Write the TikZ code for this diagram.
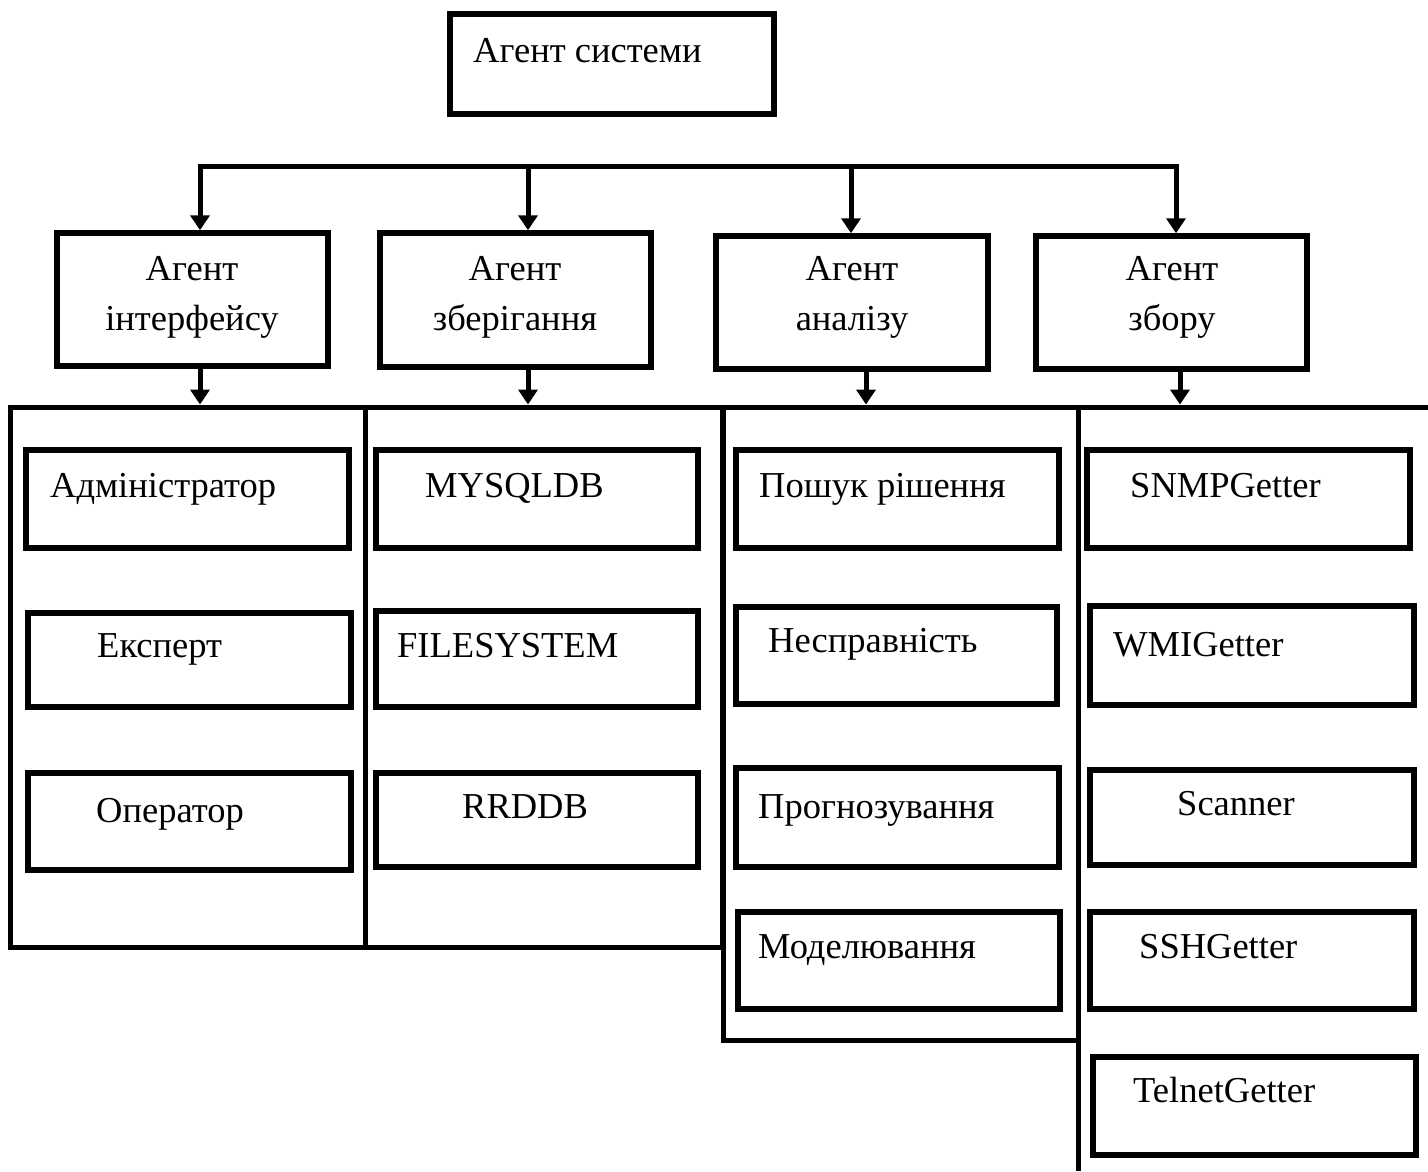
\documentclass[tikz,border=0pt]{standalone}
\usepackage{fontspec}
\setmainfont{Liberation Serif}
\usetikzlibrary{arrows.meta}

% rectangle given by the centre lines of its border: name, x1, y1, x2, y2
\newcommand\panel[6][boxline]{%
  \node[#1, minimum width={(#5-#3)*1pt}, minimum height={(#6-#4)*1pt}]
    (#2) at ({(#3+#5)/2},{(#4+#6)/2}) {};}

\tikzset{
  boxline/.style={draw, line width=5.5pt, inner sep=0pt, outer sep=0.5\pgflinewidth},
  frameline/.style={draw, line width=5pt, inner sep=0pt, outer sep=0.5\pgflinewidth},
  wire/.style={line width=5pt},
  arrow/.style={wire, -{Triangle[width=19pt,length=15pt]}},
  txt/.style={inner sep=0pt, font=\fontsize{36.5}{50}\selectfont},
  lbl/.style={txt, anchor=base west},
  % two-line caption; its base anchor is the baseline of the last line
  cap2/.style={txt, align=center, anchor=base},
}

\begin{document}
\begin{tikzpicture}[x=1pt, y=-1pt]
\useasboundingbox (0,0) rectangle (1428,1171);

% top agent
\panel{sys}{450}{14}{774}{114}
\node[lbl] (sysT) at (473,62) {Агент системи};

% distribution bar
\coordinate (j1) at (200,166);
\coordinate (j2) at (528,166);
\coordinate (j3) at (851,166);
\coordinate (j4) at (1176,166);
\draw[wire, line cap=rect] (j1) -- (j4);

% second level agents
\panel{a1}{57}{233}{328}{366}
\panel{a2}{380}{233}{651}{367}
\panel{a3}{716}{236}{988}{369}
\panel{a4}{1036}{236}{1307}{369}
\node[cap2] (a1T) at (192,330) {Агент\\інтерфейсу};
\node[cap2] (a2T) at (515,330) {Агент\\зберігання};
\node[cap2] (a3T) at (852,330) {Агент\\аналізу};
\node[cap2] (a4T) at (1172,330) {Агент\\збору};

\draw[arrow] (j1) -- (j1 |- a1.north);
\draw[arrow] (j2) -- (j2 |- a2.north);
\draw[arrow] (j3) -- (j3 |- a3.north);
\draw[arrow] (j4) -- (j4 |- a4.north);

% group frames
\panel[frameline]{c1}{10.5}{407}{365.5}{947}
\panel[frameline]{c2}{365.5}{407}{722.5}{947}
\panel[frameline]{c3}{723.5}{407}{1078}{1040}
\coordinate (c4ne) at (1428,407);
\coordinate (c4nw) at (1078,407);
\coordinate (c4sw) at (1078,1171);
\coordinate (c4in) at (1180,404.5);
\draw[wire] (c4ne) -- (c4nw) -- (c4sw);

\draw[arrow] ([xshift=7.5pt]a1.south) -- ([xshift=7.5pt]a1.south |- c1.north);
\draw[arrow] ([xshift=12.5pt]a2.south) -- ([xshift=12.5pt]a2.south |- c2.north);
\draw[arrow] ([xshift=14pt]a3.south) -- ([xshift=14pt]a3.south |- c3.north);
\draw[arrow] (a4.south -| c4in) -- (c4in);

% interface agent roles
\panel{i1}{26}{450}{349}{548}
\panel{i2}{28}{613}{351}{707}
\panel{i3}{28}{773}{351}{870}
\node[lbl] (i1T) at (50,497) {Адміністратор};
\node[lbl] (i2T) at (97,657) {Експерт};
\node[lbl] (i3T) at (96,822) {Оператор};

% storage back ends
\panel{s1}{376}{450}{698}{548}
\panel{s2}{376}{611}{698}{707}
\panel{s3}{376}{773}{698}{867}
\node[lbl] (s1T) at (425,497) {MYSQLDB};
\node[lbl] (s2T) at (397,657) {FILESYSTEM};
\node[lbl] (s3T) at (462,818) {RRDDB};

% analysis tasks
\panel{n1}{736}{450}{1059}{548}
\panel{n2}{736}{607}{1057}{704}
\panel{n3}{736}{768}{1059}{867}
\panel{n4}{738}{912}{1060}{1009}
\node[lbl] (n1T) at (759,497) {Пошук рішення};
\node[lbl] (n2T) at (768,652) {Несправність};
\node[lbl] (n3T) at (758,818) {Прогнозування};
\node[lbl] (n4T) at (758,958) {Моделювання};

% collectors
\panel{g1}{1087}{450}{1410}{548}
\panel{g2}{1090}{606}{1414}{705}
\panel{g3}{1090}{770}{1414}{865}
\panel{g4}{1090}{912}{1414}{1009}
\panel{g5}{1093}{1057}{1416}{1155}
\node[lbl] (g1T) at (1130,497) {SNMPGetter};
\node[lbl] (g2T) at (1113,656) {WMIGetter};
\node[lbl] (g3T) at (1177,815) {Scanner};
\node[lbl] (g4T) at (1139,958) {SSHGetter};
\node[lbl] (g5T) at (1133,1102) {TelnetGetter};
\end{tikzpicture}
\end{document}
